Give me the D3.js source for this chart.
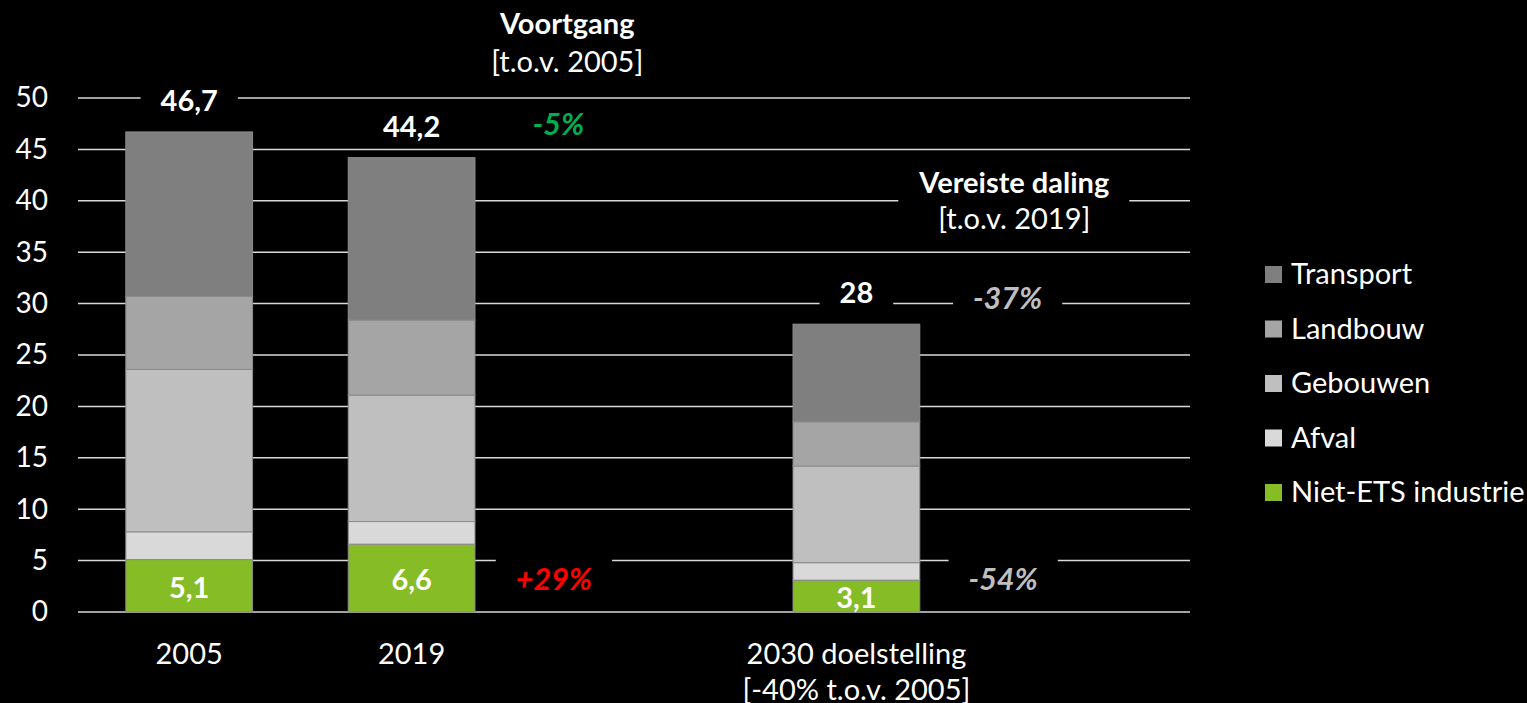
<!DOCTYPE html>
<html lang="en">
<head>
    <meta charset="UTF-8">
    <title>Niet-ETS emissies</title>
    <script src="https://cdn.jsdelivr.net/npm/d3@7"></script>
    <style>
        body { margin: 0; background: #000; }
        text { font-family: Lato, "Open Sans", sans-serif; }
    </style>
</head>
<body>
<div id="chart"></div>

<script>
    // categories (empty slots keep the spacing of the original)
    var categories = ['2005', '2019', 'gap1', '2030', 'gap2'];
    var barCategories = ['2005', '2019', '2030'];
    var categoryLabels = {
        '2005': ['2005'],
        '2019': ['2019'],
        '2030': ['2030 doelstelling', '[-40% t.o.v. 2005]']
    };

    // series values, bottom to top
    var nietEts   = [5.1, 6.6, 3.1];
    var afval     = [2.7, 2.2, 1.7];
    var gebouwen  = [15.8, 12.3, 9.4];
    var landbouw  = [7.1, 7.3, 4.3];
    var transport = [16.0, 15.8, 9.5];
    var totals    = ['46,7', '44,2', '28'];
    var greenLabels = ['5,1', '6,6', '3,1'];

    var seriesNames  = ['Niet-ETS industrie', 'Afval', 'Gebouwen', 'Landbouw', 'Transport'];
    var seriesColors = ['#86bc25', '#d9d9d9', '#bfbfbf', '#a5a5a5', '#7f7f7f'];

    var yTicks = [0, 5, 10, 15, 20, 25, 30, 35, 40, 45, 50];

    // annotations: slot position (in category steps) and value
    var notes = [
        { text: 'Voortgang',       slot: 2.2,  value: 57.2, color: '#fff',    bold: true,  italic: false, box: false },
        { text: '[t.o.v. 2005]',   slot: 2.2,  value: 53.5, color: '#fff',    bold: false, italic: false, box: false },
        { text: '-5%',             slot: 2.16, value: 47.4, color: '#00b050', bold: true,  italic: true,  box: true, size: 30.5 },
        { text: '+29%',            slot: 2.14, value: 3.2,  color: '#ff0000', bold: true,  italic: true,  box: true, size: 30.5, padY: 6 },
        { text: 'Vereiste daling', slot: 4.21, value: 41.7, color: '#fff',    bold: true,  italic: false, box: true, padY: 6 },
        { text: '[t.o.v. 2019]',   slot: 4.21, value: 38.2, color: '#fff',    bold: false, italic: false, box: false },
        { text: '-37%',            slot: 4.18, value: 30.5, color: '#bfbfbf', bold: true,  italic: true,  box: true, size: 30.5 },
        { text: '-54%',            slot: 4.16, value: 3.2,  color: '#bfbfbf', bold: true,  italic: true,  box: true, size: 30.5, padY: 6 }
    ];

    var width = 1527;
    var height = 703;
    var margin = { left: 78, right: 337, top: 98, bottom: 91 };
    var plotW = width - margin.left - margin.right;
    var plotH = height - margin.top - margin.bottom;

    var svg = d3.select('#chart')
                .append('svg')
                .attr('width', width)
                .attr('height', height)
                .style('background', '#000');

    var g = svg.append('g')
               .attr('transform', 'translate(' + margin.left + ',' + margin.top + ')');

    var x = d3.scaleBand()
              .domain(categories)
              .range([0, plotW])
              .paddingInner(0.43)
              .paddingOuter(0.215);

    var slotX = d3.scaleLinear()
                  .domain([0, categories.length])
                  .range([0, plotW]);

    var y = d3.scaleLinear()
              .domain([0, 50])
              .range([plotH, 0]);

    // gridlines
    g.selectAll('.grid')
     .data(yTicks)
     .join('line')
     .attr('class', 'grid')
     .attr('x1', 0)
     .attr('x2', plotW)
     .attr('y1', function(d) { return y(d); })
     .attr('y2', function(d) { return y(d); })
     .attr('stroke', '#d9d9d9')
     .attr('stroke-width', 1.5);

    // y axis labels
    var yAxis = d3.axisLeft(y).tickValues(yTicks).tickSize(0).tickPadding(30);
    var yG = g.append('g').call(yAxis);
    yG.select('.domain').remove();
    yG.selectAll('text')
      .attr('fill', '#fff')
      .style('font-size', '28px');

    // stacked data
    var rows = barCategories.map(function(c, i) {
        return {
            cat: c,
            'Niet-ETS industrie': nietEts[i],
            'Afval': afval[i],
            'Gebouwen': gebouwen[i],
            'Landbouw': landbouw[i],
            'Transport': transport[i]
        };
    });
    var stack = d3.stack().keys(seriesNames)(rows);

    g.selectAll('.layer')
     .data(stack)
     .join('g')
     .attr('class', 'layer')
     .attr('fill', function(d, i) { return seriesColors[i]; })
     .selectAll('rect')
     .data(function(d) { return d; })
     .join('rect')
     .attr('x', function(d) { return x(d.data.cat); })
     .attr('width', x.bandwidth())
     .attr('y', function(d) { return y(d[1]); })
     .attr('height', function(d) { return y(d[0]) - y(d[1]); })
     .attr('stroke', '#8c8c8c')
     .attr('stroke-width', 1);

    // helper for text with a black box behind it
    function addLabel(parent, cx, cy, txt, opts) {
        var lg = parent.append('g');
        var t = lg.append('text')
                  .attr('x', cx)
                  .attr('y', cy)
                  .attr('dy', '0.35em')
                  .attr('text-anchor', 'middle')
                  .attr('fill', opts.color)
                  .style('font-size', (opts.size || 29) + 'px')
                  .style('font-weight', opts.bold ? 700 : 400)
                  .style('font-style', opts.italic ? 'italic' : 'normal')
                  .text(txt);
        if (opts.box) {
            var b = t.node().getBBox();
            var py = opts.padY || 1;
            lg.insert('rect', 'text')
              .attr('x', b.x - 20)
              .attr('y', b.y - py)
              .attr('width', b.width + 40)
              .attr('height', b.height + 2 * py)
              .attr('fill', '#000');
        }
    }

    // totals above bars
    barCategories.forEach(function(c, i) {
        var total = nietEts[i] + afval[i] + gebouwen[i] + landbouw[i] + transport[i];
        addLabel(g, x(c) + x.bandwidth() / 2, y(total) - 31, totals[i],
                 { color: '#fff', bold: true, box: true });
        addLabel(g, x(c) + x.bandwidth() / 2, y(nietEts[i] / 2) + 2, greenLabels[i],
                 { color: '#fff', bold: true, box: false });
    });

    // annotations
    notes.forEach(function(n) {
        addLabel(g, slotX(n.slot), y(n.value), n.text, n);
    });

    // x axis labels
    barCategories.forEach(function(c) {
        categoryLabels[c].forEach(function(line, j) {
            g.append('text')
             .attr('x', x(c) + x.bandwidth() / 2)
             .attr('y', plotH + 42 + j * 36)
             .attr('dy', '0.35em')
             .attr('text-anchor', 'middle')
             .attr('fill', '#fff')
             .style('font-size', '29px')
             .text(line);
        });
    });

    // legend (top to bottom: Transport first)
    var legendItems = seriesNames.slice().reverse();
    var legendColors = seriesColors.slice().reverse();
    var legend = svg.append('g')
                    .attr('transform', 'translate(1265, 274)');

    var li = legend.selectAll('.item')
                   .data(legendItems)
                   .join('g')
                   .attr('class', 'item')
                   .attr('transform', function(d, i) { return 'translate(0,' + (i * 54.5) + ')'; });

    li.append('rect')
      .attr('x', 0)
      .attr('y', -8)
      .attr('width', 17)
      .attr('height', 17)
      .attr('fill', function(d, i) { return legendColors[i]; });

    li.append('text')
      .attr('x', 26)
      .attr('y', 0)
      .attr('dy', '0.35em')
      .attr('fill', '#fff')
      .style('font-size', '29px')
      .text(function(d) { return d; });
</script>
</body>
</html>
